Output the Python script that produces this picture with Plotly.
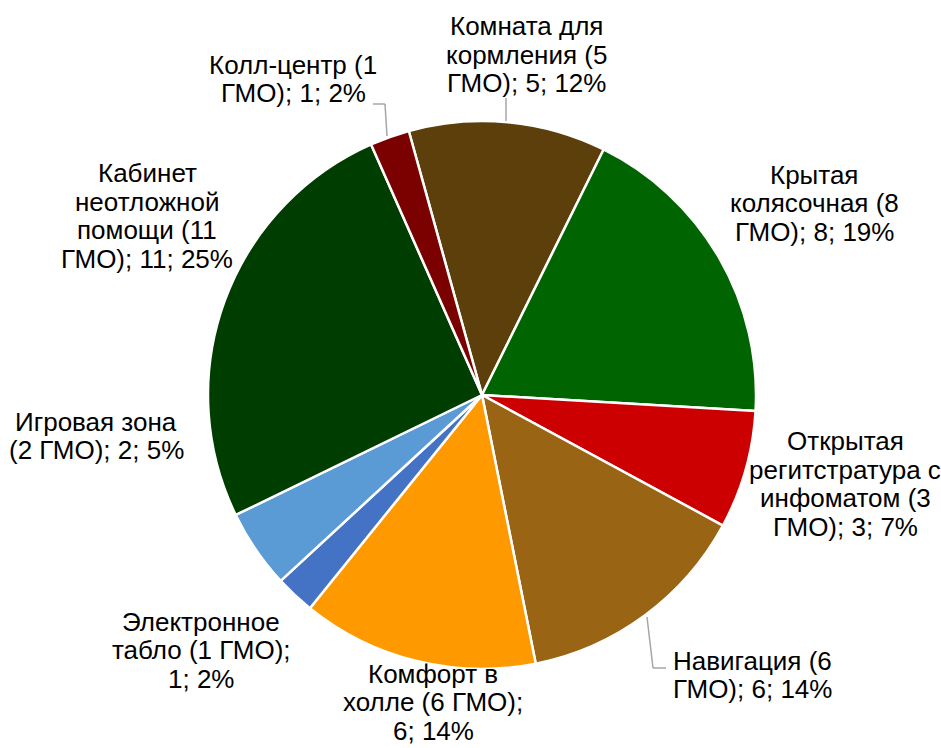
import plotly.graph_objects as go

categories = [
    "Комната для кормления",
    "Крытая колясочная",
    "Открытая регитстратура с инфоматом",
    "Навигация",
    "Комфорт в холле",
    "Электронное табло",
    "Игровая зона",
    "Кабинет неотложной помощи",
    "Колл-центр",
]
values = [5, 8, 3, 6, 6, 1, 2, 11, 1]
percents = ["12%", "19%", "7%", "14%", "14%", "2%", "5%", "25%", "2%"]
label_lines = [
    ["Комната для", "кормления (5", "ГМО); 5; 12%"],
    ["Крытая", "колясочная (8", "ГМО); 8; 19%"],
    ["Открытая", "регитстратура с", "инфоматом (3", "ГМО); 3; 7%"],
    ["Навигация (6", "ГМО); 6; 14%"],
    ["Комфорт в", "холле (6 ГМО);", "6; 14%"],
    ["Электронное", "табло (1 ГМО);", "1; 2%"],
    ["Игровая зона", "(2 ГМО); 2; 5%"],
    ["Кабинет", "неотложной", "помощи (11", "ГМО); 11; 25%"],
    ["Колл-центр (1", "ГМО); 1; 2%"],
]
colors = ["#5C3F0A", "#006400", "#CC0000", "#996515", "#FF9900",
          "#4472C4", "#5B9BD5", "#003D00", "#7B0000"]

W, H = 941, 748
# label block centers in pixels
label_pos = [(526, 55), (814, 203), (845, 484), (752, 675), (433, 702),
             (201, 650), (96, 436), (147, 216), (293, 79)]
LINE_H = 28.5

fig = go.Figure(go.Pie(
    labels=categories, values=values, sort=False, direction="clockwise",
    rotation=-15.5, textinfo="none", hoverinfo="label+value+percent",
    marker=dict(colors=colors, line=dict(color="white", width=2.5)),
    domain=dict(x=[208 / W, 756 / W], y=[1 - 669 / H, 1 - 121 / H]),
    showlegend=False,
))

for lines, (px, py) in zip(label_lines, label_pos):
    n = len(lines)
    for i, line in enumerate(lines):
        ly = py + (i - (n - 1) / 2) * LINE_H
        fig.add_annotation(x=px / W, y=1 - ly / H, xref="paper", yref="paper",
                           text=line, showarrow=False, xanchor="center", yanchor="middle",
                           font=dict(family="Liberation Sans, Arial", size=26, color="#000000"))

leaders = [
    [(387, 136), (385, 104), (373, 104)],
    [(506, 121), (506, 98)],
    [(647, 617), (653, 668), (666, 668)],
]
for pts in leaders:
    for (x0, y0), (x1, y1) in zip(pts[:-1], pts[1:]):
        fig.add_shape(type="line", xref="paper", yref="paper",
                      x0=x0 / W, y0=1 - y0 / H, x1=x1 / W, y1=1 - y1 / H,
                      line=dict(color="#A6A6A6", width=1.5))

fig.update_layout(width=W, height=H, margin=dict(l=0, r=0, t=0, b=0),
                  paper_bgcolor="white", plot_bgcolor="white")
fig.write_html("out.html", config={"displayModeBar": False},
               post_script="document.body.style.margin='0';")
